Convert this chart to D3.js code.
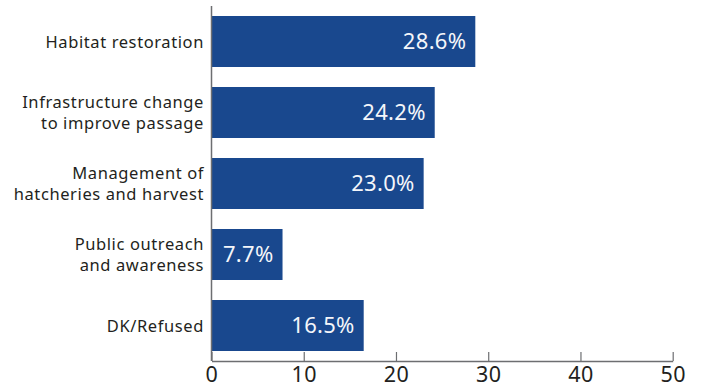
<!DOCTYPE html>
<html>
<head>
<meta charset="utf-8">
<script src="https://cdn.jsdelivr.net/npm/d3@7"></script>
<style>
  html, body { margin: 0; padding: 0; background: #fff; }
  svg { display: block; }
  text { font-family: "Noto Sans", Lato, sans-serif; }
</style>
</head>
<body>
<svg id="chart" width="703" height="387"></svg>
<script>
// Survey responses: preferred approach, share of respondents (%)
const categories = [
  ["Habitat restoration"],
  ["Infrastructure change", "to improve passage"],
  ["Management of", "hatcheries and harvest"],
  ["Public outreach", "and awareness"],
  ["DK/Refused"]
];
const values = [28.6, 24.2, 23.0, 7.7, 16.5];
const xTicks = [0, 10, 20, 30, 40, 50];

const svg = d3.select("#chart");
const axisTop = 6;
const plotBottom = 361;
const axisColor = "#6d6e71";
const textColor = "#231f20";
const barColor = "#19488e";

const x = d3.scaleLinear().domain([0, 50]).range([211.5, 672.7]);
const y = d3.scaleBand()
  .domain(d3.range(values.length))
  .range([5.35, 361.65])
  .paddingInner(20 / 71)
  .paddingOuter(0.15);

// Bars
svg.append("g").selectAll("rect")
  .data(values)
  .join("rect")
  .attr("x", x(0))
  .attr("y", (d, i) => y(i))
  .attr("width", d => x(d) - x(0))
  .attr("height", y.bandwidth())
  .attr("fill", barColor);

// Value labels inside the bar ends
svg.append("g").selectAll("text")
  .data(values)
  .join("text")
  .attr("x", d => x(d) - 9)
  .attr("y", (d, i) => y(i) + y.bandwidth() / 2)
  .attr("dy", "0.36em")
  .attr("text-anchor", "end")
  .attr("fill", "#f4f6fa")
  .attr("font-size", 22)
  .attr("letter-spacing", 0.3)
  .text(d => d.toFixed(1) + "%");

// Category labels (one or two lines)
const lineH = 21;
const catG = svg.append("g");
categories.forEach((lines, i) => {
  const cy = y(i) + y.bandwidth() / 2;
  const t = catG.append("text")
    .attr("text-anchor", "end")
    .attr("font-size", 16.5)
    .attr("letter-spacing", 0.6)
    .attr("fill", textColor);
  lines.forEach((ln, j) => {
    t.append("tspan")
      .attr("x", 204)
      .attr("y", cy + (j - (lines.length - 1) / 2) * lineH + 0.5)
      .attr("dy", "0.35em")
      .text(ln);
  });
});

// X axis with ticks pointing up into the plot
const xAxis = d3.axisBottom(x)
  .tickValues(xTicks)
  .tickSize(-9)
  .tickSizeOuter(0)
  .tickPadding(6);
const gx = svg.append("g")
  .attr("transform", `translate(0,${plotBottom})`)
  .call(xAxis);
gx.select(".domain").attr("stroke", axisColor).attr("stroke-width", 1.5);
gx.selectAll(".tick line").attr("stroke", axisColor).attr("stroke-width", 1.2);
gx.selectAll(".tick text")
  .attr("font-size", 21.5)
  .attr("letter-spacing", 0.5)
  .attr("fill", textColor)
  .attr("font-family", "'Noto Sans', Lato, sans-serif");

// Y axis line
svg.append("line")
  .attr("x1", x(0)).attr("x2", x(0))
  .attr("y1", axisTop).attr("y2", plotBottom)
  .attr("stroke", axisColor)
  .attr("stroke-width", 1.5);
</script>
</body>
</html>
